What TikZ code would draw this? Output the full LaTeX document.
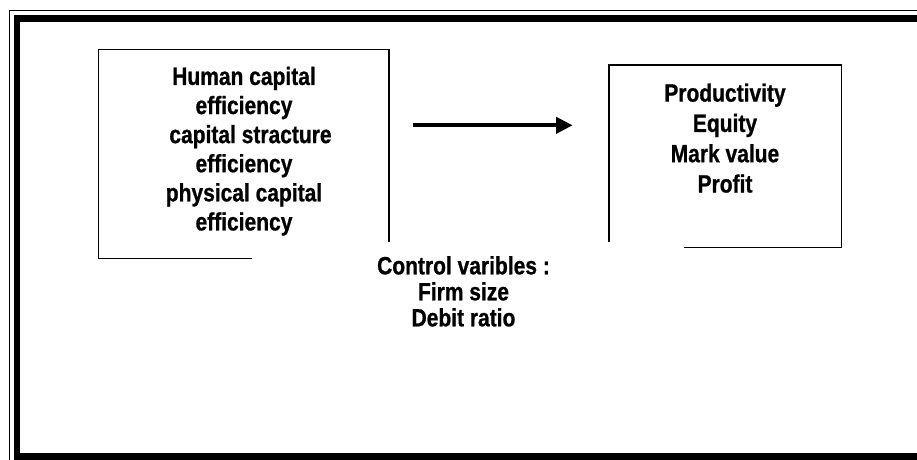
\documentclass[tikz,border=0pt]{standalone}
\usepackage{fontspec}
\newfontfamily\diagfont{Liberation Sans}[FakeStretch=0.84,FakeBold=0.8]
\usetikzlibrary{arrows.meta}

\begin{document}
\begin{tikzpicture}[x=1pt,y=-1pt,
  boxline/.style={line width=1.3pt},
  boxtext/.style={inner sep=0pt,align=center,anchor=north,
    font=\diagfont\bfseries\fontsize{25}{#1}\selectfont}]
\clip (0,0) rectangle (917,459);
\useasboundingbox (0,0) rectangle (917,459);
% double frame, cut off at the right and bottom
\draw[line width=1.3pt] (9.5,10.5) rectangle (940,480);
\draw[line width=6.8pt] (17,18.3) rectangle (930,456.7);
% left box
\draw[boxline]
     (251.7,258.3)
  -- (98.3,258.3)
  -- (98.3,49.3)
  -- (389,49.3)
  -- (389,241.7);
% right box
\draw[boxline]
     (609,241.7)
  -- (609,65)
  -- (841.7,65)
  -- (841.7,247.3)
  -- (684,247.3);
\node[boxtext=29.1] (inputs) at (244,66.6)
  {Human capital\\efficiency\\\hspace*{13pt}capital stracture\\efficiency\\physical capital\\efficiency};
\node[boxtext=30.3] (outputs) at (725,83.3)
  {Productivity\\Equity\\Mark value\\Profit};
\node[boxtext=26] (controls) at (463.5,256)
  {Control varibles :\\Firm size\\Debit ratio};
\coordinate (arrow-from) at (412.7,125.3);
\coordinate (arrow-to) at (572.7,125.3);
\draw[line width=4pt,-{Triangle[length=16.7pt,width=16pt]}] (arrow-from) -- (arrow-to);
\end{tikzpicture}
\end{document}
